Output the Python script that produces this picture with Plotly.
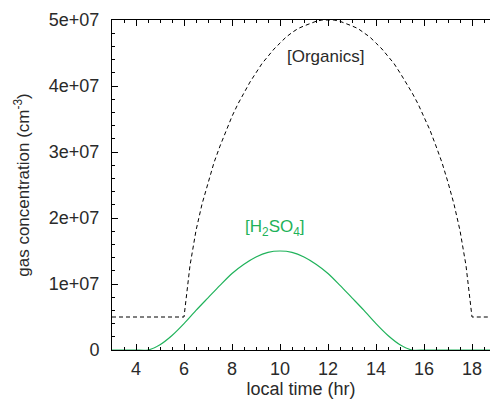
import plotly.graph_objects as go

# ---- data ----
# Organics concentration, in units of 1e6 cm^-3
org_time = [3, 6, 6.25, 6.5, 6.75, 7, 7.25, 7.5, 7.75, 8, 8.25, 8.5, 8.75, 9, 9.25, 9.5, 9.75,
            10, 10.25, 10.5, 10.75, 11, 11.25, 11.5, 11.75, 12, 12.25, 12.5, 12.75, 13, 13.25,
            13.5, 13.75, 14, 14.25, 14.5, 14.75, 15, 15.25, 15.5, 15.75, 16, 16.25, 16.5, 16.75,
            17, 17.25, 17.5, 17.75, 18, 19]
org_millions = [5, 5, 12.8, 18.1, 22.1, 25.4, 28.4, 30.9, 33.3, 35.4, 37.3, 39.0, 40.6, 42.0,
                43.4, 44.5, 45.6, 46.5, 47.4, 48.1, 48.7, 49.1, 49.5, 49.8, 50.0, 50.0, 50.0,
                49.8, 49.5, 49.1, 48.7, 48.1, 47.4, 46.5, 45.6, 44.5, 43.4, 42.0, 40.6, 39.0,
                37.3, 35.4, 33.3, 30.9, 28.4, 25.4, 22.1, 18.1, 12.8, 5, 5]

# H2SO4 concentration, in units of 1e6 cm^-3
h2so4_time = [3, 3.5, 4, 4.5, 5, 5.5, 6, 6.5, 7, 7.5, 8, 8.5, 9, 9.5, 10, 10.5, 11, 11.5, 12,
              12.5, 13, 13.5, 14, 14.5, 15, 15.5, 16, 16.5, 17, 17.5, 18, 18.5, 19]
h2so4_millions = [0, 0, 0, 0, 0.8, 2.2, 4.0, 6.0, 7.9, 9.8, 11.6, 13.0, 14.1, 14.8, 15.0, 14.8,
                  14.1, 13.0, 11.6, 9.8, 7.9, 6.0, 4.0, 2.2, 0.8, 0, 0, 0, 0, 0, 0, 0, 0]

x_ticks = [4, 6, 8, 10, 12, 14, 16, 18]
y_ticks = [0, 1e7, 2e7, 3e7, 4e7, 5e7]
y_tick_text = ["0", "1e+07", "2e+07", "3e+07", "4e+07", "5e+07"]

GREEN = "#1fb25a"
FONT = "Liberation Sans, Arial, sans-serif"
TXT = "#2a2a2a"

fig = go.Figure()
fig.add_trace(go.Scatter(
    x=org_time, y=[v * 1e6 for v in org_millions], mode="lines",
    line=dict(color="black", width=1, dash="4px,3px"), showlegend=False))
fig.add_trace(go.Scatter(
    x=h2so4_time, y=[v * 1e6 for v in h2so4_millions], mode="lines",
    line=dict(color=GREEN, width=1.2, shape="spline", smoothing=0.8), showlegend=False))

fig.add_annotation(x=11.9, y=4.44e7, text="[Organics]", showarrow=False,
                   font=dict(family=FONT, size=17, color=TXT))
fig.add_annotation(x=9.8, y=1.85e7, text="[H<sub>2</sub>SO<sub>4</sub>]", showarrow=False,
                   font=dict(family=FONT, size=17, color=GREEN))

axis_common = dict(
    showline=True, linecolor="black", linewidth=1,
    ticks="inside", tickcolor="black", ticklen=6, tickwidth=1,
    showgrid=False, zeroline=False,
)

fig.update_layout(
    width=490, height=399,
    margin=dict(l=112, r=0, t=20, b=49),
    paper_bgcolor="white", plot_bgcolor="white",
    font=dict(family=FONT, color=TXT),
    xaxis=dict(range=[3, 18.75], tickvals=x_ticks, mirror="allticks", ticklabelstandoff=2,
               tickfont=dict(family=FONT, size=18, color=TXT),
               minor=dict(dtick=0.5, tick0=3, ticks="inside", ticklen=3, tickcolor="black"),
               title=dict(text="local time (hr)", font=dict(family=FONT, size=18, color=TXT),
                          standoff=6),
               **axis_common),
    yaxis=dict(range=[0, 5e7], tickvals=y_ticks, ticktext=y_tick_text, mirror=False,
               ticklabelstandoff=8,
               tickfont=dict(family=FONT, size=18, color=TXT),
               minor=dict(dtick=2e6, tick0=0, ticks="inside", ticklen=3, tickcolor="black"),
               title=dict(text="gas concentration (cm<sup>-3</sup>)",
                          font=dict(family=FONT, size=17, color=TXT), standoff=14),
               **axis_common),
)

fig.write_html("out.html")
